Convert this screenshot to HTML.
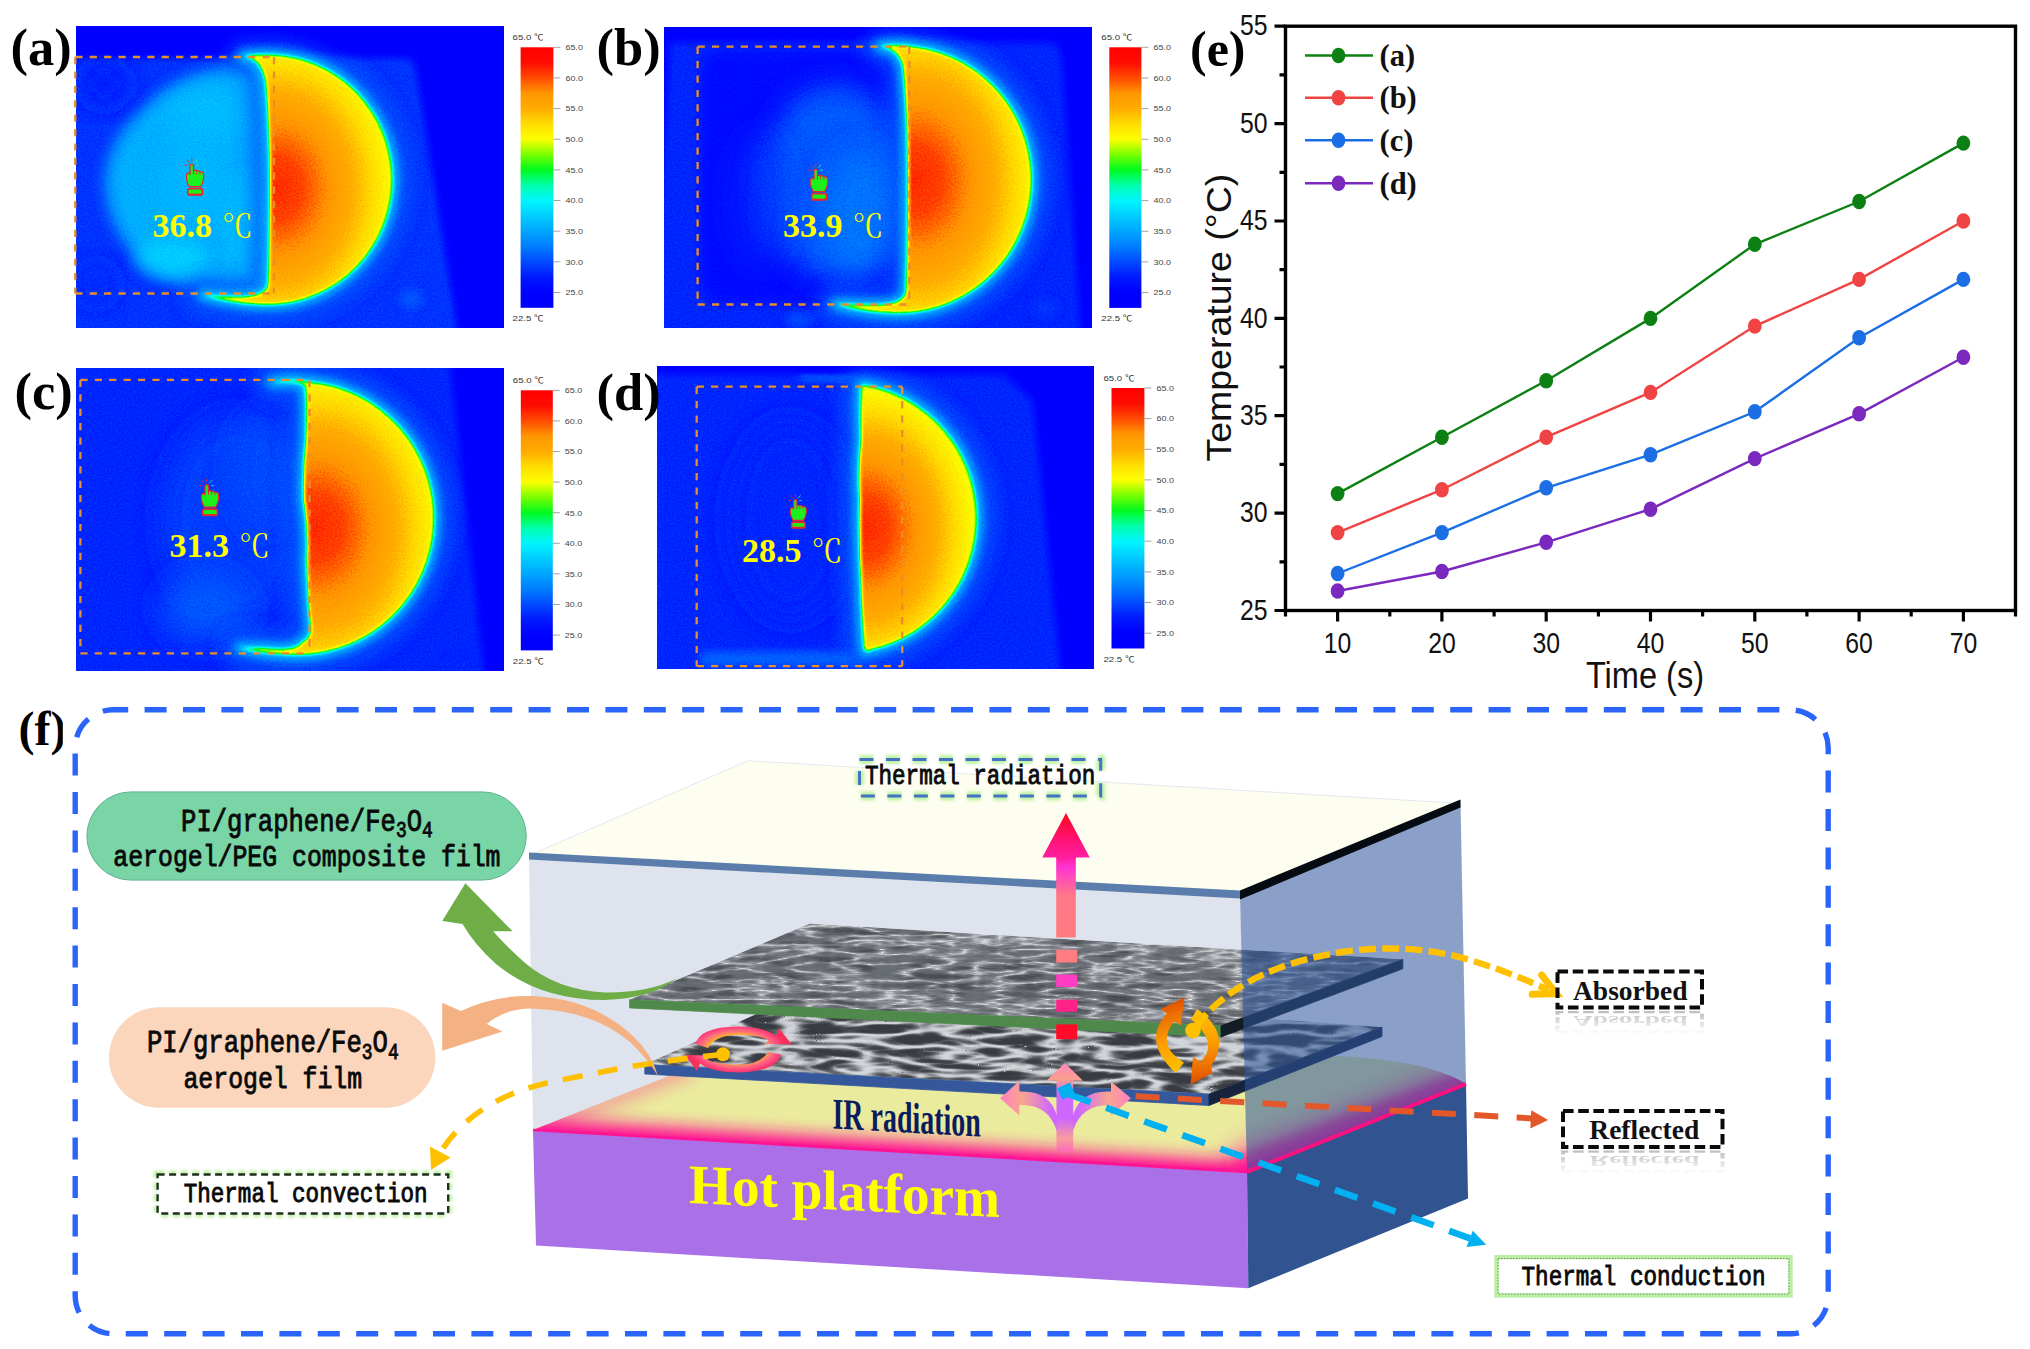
<!DOCTYPE html>
<html><head><meta charset="utf-8"><title>Figure</title>
<style>html,body{margin:0;padding:0;background:#fff;}svg{display:block;}</style>
</head><body>
<svg width="2030" height="1349" viewBox="0 0 2030 1349">
<rect width="2030" height="1349" fill="#fff"/>
<defs>
<filter id="cmap" color-interpolation-filters="sRGB" x="0" y="0" width="100%" height="100%">
<feGaussianBlur stdDeviation="0.7"/>
<feComponentTransfer><feFuncR type="table" tableValues="0.000 0.000 0.000 0.000 0.000 0.000 0.000 0.000 0.000 0.000 0.471 0.988 1.000 1.000 1.000 1.000 1.000 1.000"/><feFuncG type="table" tableValues="0.000 0.000 0.098 0.294 0.490 0.647 0.804 0.961 1.000 0.980 1.000 1.000 0.863 0.675 0.588 0.294 0.047 0.000"/><feFuncB type="table" tableValues="1.000 1.000 1.000 1.000 1.000 1.000 1.000 1.000 0.667 0.118 0.000 0.000 0.000 0.000 0.000 0.000 0.000 0.000"/><feFuncA type="linear" slope="0" intercept="1"/></feComponentTransfer>
</filter>
<linearGradient id="cbar" x1="0" y1="0" x2="0" y2="1"><stop offset="0.0000" stop-color="rgb(255,0,0)"/><stop offset="0.0588" stop-color="rgb(255,12,0)"/><stop offset="0.1176" stop-color="rgb(255,75,0)"/><stop offset="0.1765" stop-color="rgb(255,150,0)"/><stop offset="0.2353" stop-color="rgb(255,172,0)"/><stop offset="0.2941" stop-color="rgb(255,220,0)"/><stop offset="0.3529" stop-color="rgb(252,255,0)"/><stop offset="0.4118" stop-color="rgb(120,255,0)"/><stop offset="0.4706" stop-color="rgb(0,250,30)"/><stop offset="0.5294" stop-color="rgb(0,255,170)"/><stop offset="0.5882" stop-color="rgb(0,245,255)"/><stop offset="0.6471" stop-color="rgb(0,205,255)"/><stop offset="0.7059" stop-color="rgb(0,165,255)"/><stop offset="0.7647" stop-color="rgb(0,125,255)"/><stop offset="0.8235" stop-color="rgb(0,75,255)"/><stop offset="0.8824" stop-color="rgb(0,25,255)"/><stop offset="0.9412" stop-color="rgb(0,0,255)"/><stop offset="1.0000" stop-color="rgb(0,0,255)"/></linearGradient>
<filter id="b1" x="-20%" y="-20%" width="140%" height="140%"><feGaussianBlur stdDeviation="1.6"/></filter>
<filter id="b2" x="-20%" y="-20%" width="140%" height="140%"><feGaussianBlur stdDeviation="2.5"/></filter>
<filter id="b4" x="-30%" y="-30%" width="160%" height="160%"><feGaussianBlur stdDeviation="4"/></filter>
<filter id="b8" x="-40%" y="-40%" width="180%" height="180%"><feGaussianBlur stdDeviation="8"/></filter>
<filter id="b14" x="-50%" y="-50%" width="200%" height="200%"><feGaussianBlur stdDeviation="14"/></filter>
<filter id="soft" x="-5%" y="-5%" width="110%" height="110%"><feGaussianBlur stdDeviation="0.6"/></filter>
</defs><defs><filter id="cmA" filterUnits="userSpaceOnUse" x="76.0" y="26.5" width="427.5" height="301.5" color-interpolation-filters="sRGB"><feGaussianBlur stdDeviation="0.8" result="b"/><feTurbulence type="fractalNoise" baseFrequency="0.55" numOctaves="2" seed="5" result="n"/><feColorMatrix in="n" type="matrix" values="1 0 0 0 0  1 0 0 0 0  1 0 0 0 0  0 0 0 0 1" result="n1"/><feComposite in="b" in2="n1" operator="arithmetic" k1="0" k2="1" k3="0.064" k4="-0.032" result="bn"/><feComponentTransfer in="bn"><feFuncR type="table" tableValues="0.000 0.000 0.000 0.000 0.000 0.000 0.000 0.000 0.000 0.000 0.471 0.988 1.000 1.000 1.000 1.000 1.000 1.000"/><feFuncG type="table" tableValues="0.000 0.000 0.098 0.294 0.490 0.647 0.804 0.961 1.000 0.980 1.000 1.000 0.863 0.675 0.588 0.294 0.047 0.000"/><feFuncB type="table" tableValues="1.000 1.000 1.000 1.000 1.000 1.000 1.000 1.000 0.667 0.118 0.000 0.000 0.000 0.000 0.000 0.000 0.000 0.000"/><feFuncA type="linear" slope="0" intercept="1"/></feComponentTransfer></filter><radialGradient id="hgA" gradientUnits="userSpaceOnUse" cx="276.0" cy="188.0" r="116.0" gradientTransform="translate(0 -47.00) scale(1 1.250)"><stop offset="0.00" stop-color="#e9e9e9"/><stop offset="0.22" stop-color="#e3e3e3"/><stop offset="0.45" stop-color="#d2d2d2"/><stop offset="0.68" stop-color="#c1c1c1"/><stop offset="0.86" stop-color="#b1b1b1"/><stop offset="1.00" stop-color="#a6a6a6"/></radialGradient></defs><g filter="url(#cmA)"><rect x="71.0" y="21.5" width="437.5" height="311.5" fill="#090909"/><path d="M50 56 L408 56 Q416 58 418 70 L462 345 L50 345 Z" fill="#252525" filter="url(#b4)"/><path d="M273 66 Q210 62 165 92 Q108 130 106 182 Q108 235 150 268 Q200 296 273 292 Z" fill="#4f4f4f" filter="url(#b8)"/><ellipse cx="205.0" cy="115.0" rx="40.0" ry="28.0" fill="#565656" filter="url(#b14)" opacity="0.70"/><ellipse cx="172.0" cy="258.0" rx="36.0" ry="20.0" fill="#5d5d5d" filter="url(#b8)" opacity="0.75"/><ellipse cx="245.0" cy="225.0" rx="22.0" ry="50.0" fill="#575757" filter="url(#b8)" opacity="0.60"/><ellipse cx="196.0" cy="182.0" rx="30.0" ry="40.0" fill="#555555" filter="url(#b14)" opacity="0.60"/><ellipse cx="104.0" cy="84.0" rx="22.0" ry="20.0" fill="#1e1e1e" filter="url(#b14)" opacity="0.80"/><ellipse cx="96.0" cy="284.0" rx="16.0" ry="18.0" fill="#212121" filter="url(#b14)" opacity="0.80"/><ellipse cx="411.0" cy="299.0" rx="12.0" ry="10.0" fill="#303030" filter="url(#b4)" opacity="0.90"/><path d="M243 56.16 Q262 58 266 84 Q270 130 270 180 Q270 250 268 285 Q266 296 240 297 Q222 297 203 295 Q230 303 258 304.24 A125.0 125.0 0 0 0 283 55.56 Q262 53 243 56.16 Z" fill="none" stroke="#323232" stroke-width="40" stroke-linejoin="round" filter="url(#b8)" opacity="0.75"/><path d="M243 56.16 Q262 58 266 84 Q270 130 270 180 Q270 250 268 285 Q266 296 240 297 Q222 297 203 295 Q230 303 258 304.24 A125.0 125.0 0 0 0 283 55.56 Q262 53 243 56.16 Z" fill="none" stroke="#5a5a5a" stroke-width="11.0" stroke-linejoin="round" filter="url(#b4)" opacity="0.85"/><path d="M243 56.16 Q262 58 266 84 Q270 130 270 180 Q270 250 268 285 Q266 296 240 297 Q222 297 203 295 Q230 303 258 304.24 A125.0 125.0 0 0 0 283 55.56 Q262 53 243 56.16 Z" fill="url(#hgA)" filter="url(#b1)"/></g><path d="M75.3 57.0 H274.0" stroke="#e88f2c" stroke-width="2.3" stroke-dasharray="7.2 7.2" fill="none"/><path d="M75.3 293.5 H274.0" stroke="#e88f2c" stroke-width="2.3" stroke-dasharray="7.2 7.2" fill="none"/><path d="M75.3 57.0 V293.5" stroke="#e88f2c" stroke-width="2.3" stroke-dasharray="7.2 7.2" fill="none"/><path d="M274.0 57.0 V293.5" stroke="#e88f2c" stroke-width="2.3" stroke-dasharray="7.2 7.2" fill="none"/><g transform="translate(195.0 158.0) scale(1.000)" stroke="#e8262c" stroke-width="1.25" fill="#1cf01c" stroke-linejoin="round"><path d="M-5 8 Q-5 6 -3.2 6 Q-1.5 6 -1.5 8 V13 Q0 11.4 1.6 13 Q3.2 11.9 4.8 13.8 Q6.6 12.9 8.2 15 Q9.1 17 8.6 21 Q8 25 5.6 28.6 H-5.6 Q-8 25 -8.6 21 Q-9.1 17 -8 15.4 Q-6.5 14.4 -5 16 Z"/><path d="M-1.5 13 v3.4 M1.7 13.4 v3 M5 14.2 v2.6" fill="none" stroke-width="0.9"/><rect x="-7.3" y="30.6" width="14.7" height="6.4" rx="2" stroke-width="1.7"/><path d="M-6.4 36.4 h12.9" stroke-width="1.6" fill="none"/><g fill="none" stroke-width="1" stroke-linecap="round"><path d="M-8.2 2 l2.6 2.6"/><path d="M-3.2 0.4 v2.8"/><path d="M2 2 l-2.4 2.4" stroke="#34e0a0"/><path d="M-10.4 7.2 h2.6"/><path d="M1.4 7.2 h2" stroke="#34e0a0"/></g></g><text x="152.5" y="237.0" font-family="'Liberation Serif','Noto Serif CJK SC',serif" font-weight="bold" font-size="34" fill="#ffff00">36.8<tspan font-weight="normal" font-family="'Liberation Serif','Noto Serif CJK SC',serif" font-size="31" dx="10">℃</tspan></text><rect x="520.6" y="47.3" width="32.8" height="260.5" fill="url(#cbar)"/><g font-family="'Liberation Sans','Noto Sans CJK SC',sans-serif" font-size="7.6" fill="#333"><text x="512.6" y="39.8" textLength="31" lengthAdjust="spacingAndGlyphs">65.0 ℃</text><text x="512.6" y="321.3" textLength="31" lengthAdjust="spacingAndGlyphs">22.5 ℃</text><path d="M553.4 292.5 h7" stroke="#999" stroke-width="0.9"/><text x="565.4" y="295.3" fill="#444" textLength="17.5" lengthAdjust="spacingAndGlyphs">25.0</text><path d="M553.4 261.8 h7" stroke="#999" stroke-width="0.9"/><text x="565.4" y="264.6" fill="#444" textLength="17.5" lengthAdjust="spacingAndGlyphs">30.0</text><path d="M553.4 231.2 h7" stroke="#999" stroke-width="0.9"/><text x="565.4" y="234.0" fill="#444" textLength="17.5" lengthAdjust="spacingAndGlyphs">35.0</text><path d="M553.4 200.5 h7" stroke="#999" stroke-width="0.9"/><text x="565.4" y="203.3" fill="#444" textLength="17.5" lengthAdjust="spacingAndGlyphs">40.0</text><path d="M553.4 169.9 h7" stroke="#999" stroke-width="0.9"/><text x="565.4" y="172.7" fill="#444" textLength="17.5" lengthAdjust="spacingAndGlyphs">45.0</text><path d="M553.4 139.2 h7" stroke="#999" stroke-width="0.9"/><text x="565.4" y="142.0" fill="#444" textLength="17.5" lengthAdjust="spacingAndGlyphs">50.0</text><path d="M553.4 108.6 h7" stroke="#999" stroke-width="0.9"/><text x="565.4" y="111.4" fill="#444" textLength="17.5" lengthAdjust="spacingAndGlyphs">55.0</text><path d="M553.4 77.9 h7" stroke="#999" stroke-width="0.9"/><text x="565.4" y="80.7" fill="#444" textLength="17.5" lengthAdjust="spacingAndGlyphs">60.0</text><path d="M553.4 47.3 h7" stroke="#999" stroke-width="0.9"/><text x="565.4" y="50.1" fill="#444" textLength="17.5" lengthAdjust="spacingAndGlyphs">65.0</text></g><text x="10.5" y="65.0" font-family="'Liberation Serif','Noto Serif CJK SC',serif" font-weight="bold" font-size="52.5" fill="#000">(a)</text><defs><filter id="cmB" filterUnits="userSpaceOnUse" x="664.0" y="27.0" width="428.0" height="300.7" color-interpolation-filters="sRGB"><feGaussianBlur stdDeviation="0.8" result="b"/><feTurbulence type="fractalNoise" baseFrequency="0.55" numOctaves="2" seed="5" result="n"/><feColorMatrix in="n" type="matrix" values="1 0 0 0 0  1 0 0 0 0  1 0 0 0 0  0 0 0 0 1" result="n1"/><feComposite in="b" in2="n1" operator="arithmetic" k1="0" k2="1" k3="0.064" k4="-0.032" result="bn"/><feComponentTransfer in="bn"><feFuncR type="table" tableValues="0.000 0.000 0.000 0.000 0.000 0.000 0.000 0.000 0.000 0.000 0.471 0.988 1.000 1.000 1.000 1.000 1.000 1.000"/><feFuncG type="table" tableValues="0.000 0.000 0.098 0.294 0.490 0.647 0.804 0.961 1.000 0.980 1.000 1.000 0.863 0.675 0.588 0.294 0.047 0.000"/><feFuncB type="table" tableValues="1.000 1.000 1.000 1.000 1.000 1.000 1.000 1.000 0.667 0.118 0.000 0.000 0.000 0.000 0.000 0.000 0.000 0.000"/><feFuncA type="linear" slope="0" intercept="1"/></feComponentTransfer></filter><radialGradient id="hgB" gradientUnits="userSpaceOnUse" cx="915.0" cy="180.0" r="122.0" gradientTransform="translate(0 -54.00) scale(1 1.300)"><stop offset="0.00" stop-color="#e9e9e9"/><stop offset="0.22" stop-color="#e3e3e3"/><stop offset="0.45" stop-color="#d2d2d2"/><stop offset="0.68" stop-color="#c1c1c1"/><stop offset="0.86" stop-color="#b1b1b1"/><stop offset="1.00" stop-color="#a6a6a6"/></radialGradient></defs><g filter="url(#cmB)"><rect x="659.0" y="22.0" width="438.0" height="310.7" fill="#090909"/><path d="M668 40 L1050 40 Q1062 42 1064 60 L1084 345 L650 345 Z" fill="#232323" filter="url(#b4)"/><rect x="702" y="52" width="203" height="250" rx="20" fill="#191919" filter="url(#b4)"/><ellipse cx="835.0" cy="182.0" rx="75.0" ry="100.0" fill="#343434" filter="url(#b14)" opacity="0.90"/><ellipse cx="862.0" cy="215.0" rx="40.0" ry="65.0" fill="#3d3d3d" filter="url(#b14)" opacity="0.70"/><ellipse cx="760.0" cy="200.0" rx="30.0" ry="70.0" fill="#272727" filter="url(#b14)" opacity="0.60"/><ellipse cx="800.0" cy="320.0" rx="14.0" ry="8.0" fill="#2d2d2d" filter="url(#b4)" opacity="0.90"/><ellipse cx="1045.0" cy="308.0" rx="14.0" ry="10.0" fill="#262626" filter="url(#b4)" opacity="0.90"/><path d="M880 46.5 Q898 48 903 66 Q908 110 908 180 Q908 250 906 292 Q903 304 880 305 Q858 305 836 304 Q862 312 890 312.74 A133.6 133.6 0 0 0 915 46.84 Q897 43.5 880 46.5 Z" fill="none" stroke="#323232" stroke-width="40" stroke-linejoin="round" filter="url(#b8)" opacity="0.75"/><path d="M880 46.5 Q898 48 903 66 Q908 110 908 180 Q908 250 906 292 Q903 304 880 305 Q858 305 836 304 Q862 312 890 312.74 A133.6 133.6 0 0 0 915 46.84 Q897 43.5 880 46.5 Z" fill="none" stroke="#5a5a5a" stroke-width="11.0" stroke-linejoin="round" filter="url(#b4)" opacity="0.85"/><path d="M880 46.5 Q898 48 903 66 Q908 110 908 180 Q908 250 906 292 Q903 304 880 305 Q858 305 836 304 Q862 312 890 312.74 A133.6 133.6 0 0 0 915 46.84 Q897 43.5 880 46.5 Z" fill="url(#hgB)" filter="url(#b1)"/></g><path d="M697.6 46.7 H909.3" stroke="#e88f2c" stroke-width="2.3" stroke-dasharray="7.2 7.2" fill="none"/><path d="M697.6 304.5 H909.3" stroke="#e88f2c" stroke-width="2.3" stroke-dasharray="7.2 7.2" fill="none"/><path d="M697.6 46.7 V304.5" stroke="#e88f2c" stroke-width="2.3" stroke-dasharray="7.2 7.2" fill="none"/><path d="M909.3 46.7 V304.5" stroke="#e88f2c" stroke-width="2.3" stroke-dasharray="7.2 7.2" fill="none"/><g transform="translate(819.0 163.0) scale(1.000)" stroke="#e8262c" stroke-width="1.25" fill="#1cf01c" stroke-linejoin="round"><path d="M-5 8 Q-5 6 -3.2 6 Q-1.5 6 -1.5 8 V13 Q0 11.4 1.6 13 Q3.2 11.9 4.8 13.8 Q6.6 12.9 8.2 15 Q9.1 17 8.6 21 Q8 25 5.6 28.6 H-5.6 Q-8 25 -8.6 21 Q-9.1 17 -8 15.4 Q-6.5 14.4 -5 16 Z"/><path d="M-1.5 13 v3.4 M1.7 13.4 v3 M5 14.2 v2.6" fill="none" stroke-width="0.9"/><rect x="-7.3" y="30.6" width="14.7" height="6.4" rx="2" stroke-width="1.7"/><path d="M-6.4 36.4 h12.9" stroke-width="1.6" fill="none"/><g fill="none" stroke-width="1" stroke-linecap="round"><path d="M-8.2 2 l2.6 2.6"/><path d="M-3.2 0.4 v2.8"/><path d="M2 2 l-2.4 2.4" stroke="#34e0a0"/><path d="M-10.4 7.2 h2.6"/><path d="M1.4 7.2 h2" stroke="#34e0a0"/></g></g><text x="783.0" y="236.5" font-family="'Liberation Serif','Noto Serif CJK SC',serif" font-weight="bold" font-size="34" fill="#ffff00">33.9<tspan font-weight="normal" font-family="'Liberation Serif','Noto Serif CJK SC',serif" font-size="31" dx="10">℃</tspan></text><rect x="1109.3" y="47.3" width="32.1" height="260.6" fill="url(#cbar)"/><g font-family="'Liberation Sans','Noto Sans CJK SC',sans-serif" font-size="7.6" fill="#333"><text x="1101.3" y="39.8" textLength="31" lengthAdjust="spacingAndGlyphs">65.0 ℃</text><text x="1101.3" y="321.4" textLength="31" lengthAdjust="spacingAndGlyphs">22.5 ℃</text><path d="M1141.4 292.6 h7" stroke="#999" stroke-width="0.9"/><text x="1153.4" y="295.4" fill="#444" textLength="17.5" lengthAdjust="spacingAndGlyphs">25.0</text><path d="M1141.4 261.9 h7" stroke="#999" stroke-width="0.9"/><text x="1153.4" y="264.7" fill="#444" textLength="17.5" lengthAdjust="spacingAndGlyphs">30.0</text><path d="M1141.4 231.3 h7" stroke="#999" stroke-width="0.9"/><text x="1153.4" y="234.1" fill="#444" textLength="17.5" lengthAdjust="spacingAndGlyphs">35.0</text><path d="M1141.4 200.6 h7" stroke="#999" stroke-width="0.9"/><text x="1153.4" y="203.4" fill="#444" textLength="17.5" lengthAdjust="spacingAndGlyphs">40.0</text><path d="M1141.4 169.9 h7" stroke="#999" stroke-width="0.9"/><text x="1153.4" y="172.7" fill="#444" textLength="17.5" lengthAdjust="spacingAndGlyphs">45.0</text><path d="M1141.4 139.3 h7" stroke="#999" stroke-width="0.9"/><text x="1153.4" y="142.1" fill="#444" textLength="17.5" lengthAdjust="spacingAndGlyphs">50.0</text><path d="M1141.4 108.6 h7" stroke="#999" stroke-width="0.9"/><text x="1153.4" y="111.4" fill="#444" textLength="17.5" lengthAdjust="spacingAndGlyphs">55.0</text><path d="M1141.4 78.0 h7" stroke="#999" stroke-width="0.9"/><text x="1153.4" y="80.8" fill="#444" textLength="17.5" lengthAdjust="spacingAndGlyphs">60.0</text><path d="M1141.4 47.3 h7" stroke="#999" stroke-width="0.9"/><text x="1153.4" y="50.1" fill="#444" textLength="17.5" lengthAdjust="spacingAndGlyphs">65.0</text></g><text x="596.5" y="65.0" font-family="'Liberation Serif','Noto Serif CJK SC',serif" font-weight="bold" font-size="52.5" fill="#000">(b)</text><defs><filter id="cmC" filterUnits="userSpaceOnUse" x="76.3" y="368.7" width="427.1" height="301.5" color-interpolation-filters="sRGB"><feGaussianBlur stdDeviation="0.8" result="b"/><feTurbulence type="fractalNoise" baseFrequency="0.55" numOctaves="2" seed="5" result="n"/><feColorMatrix in="n" type="matrix" values="1 0 0 0 0  1 0 0 0 0  1 0 0 0 0  0 0 0 0 1" result="n1"/><feComposite in="b" in2="n1" operator="arithmetic" k1="0" k2="1" k3="0.064" k4="-0.032" result="bn"/><feComponentTransfer in="bn"><feFuncR type="table" tableValues="0.000 0.000 0.000 0.000 0.000 0.000 0.000 0.000 0.000 0.000 0.471 0.988 1.000 1.000 1.000 1.000 1.000 1.000"/><feFuncG type="table" tableValues="0.000 0.000 0.098 0.294 0.490 0.647 0.804 0.961 1.000 0.980 1.000 1.000 0.863 0.675 0.588 0.294 0.047 0.000"/><feFuncB type="table" tableValues="1.000 1.000 1.000 1.000 1.000 1.000 1.000 1.000 0.667 0.118 0.000 0.000 0.000 0.000 0.000 0.000 0.000 0.000"/><feFuncA type="linear" slope="0" intercept="1"/></feComponentTransfer></filter><radialGradient id="hgC" gradientUnits="userSpaceOnUse" cx="316.0" cy="528.0" r="122.0" gradientTransform="translate(0 -132.00) scale(1 1.250)"><stop offset="0.00" stop-color="#e9e9e9"/><stop offset="0.22" stop-color="#e3e3e3"/><stop offset="0.45" stop-color="#d2d2d2"/><stop offset="0.68" stop-color="#c1c1c1"/><stop offset="0.86" stop-color="#b1b1b1"/><stop offset="1.00" stop-color="#a6a6a6"/></radialGradient></defs><g filter="url(#cmC)"><rect x="71.3" y="363.7" width="437.1" height="311.5" fill="#090909"/><path d="M50 360 L452 360 L488 690 L50 690 Z" fill="#222222" filter="url(#b4)"/><ellipse cx="235.0" cy="520.0" rx="72.0" ry="105.0" fill="#292929" filter="url(#b14)" opacity="0.90"/><ellipse cx="205.0" cy="608.0" rx="45.0" ry="34.0" fill="#333333" filter="url(#b14)" opacity="0.90"/><ellipse cx="262.0" cy="470.0" rx="30.0" ry="60.0" fill="#2e2e2e" filter="url(#b14)" opacity="0.70"/><ellipse cx="455.0" cy="665.0" rx="10.0" ry="10.0" fill="#212121" filter="url(#b4)" opacity="0.90"/><path d="M272 382 Q300 381 305 386 Q307 400 306 440 Q303 470 304 500 Q309 530 307 560 Q308 600 311 630 Q309 640 302 642 Q298 652 262 648 L240 648 Q270 655 300 654.68 A136.7 136.7 0 0 0 308 381.68 Q290 378 272 382 Z" fill="none" stroke="#323232" stroke-width="40" stroke-linejoin="round" filter="url(#b8)" opacity="0.75"/><path d="M272 382 Q300 381 305 386 Q307 400 306 440 Q303 470 304 500 Q309 530 307 560 Q308 600 311 630 Q309 640 302 642 Q298 652 262 648 L240 648 Q270 655 300 654.68 A136.7 136.7 0 0 0 308 381.68 Q290 378 272 382 Z" fill="none" stroke="#5a5a5a" stroke-width="11.0" stroke-linejoin="round" filter="url(#b4)" opacity="0.85"/><path d="M272 382 Q300 381 305 386 Q307 400 306 440 Q303 470 304 500 Q309 530 307 560 Q308 600 311 630 Q309 640 302 642 Q298 652 262 648 L240 648 Q270 655 300 654.68 A136.7 136.7 0 0 0 308 381.68 Q290 378 272 382 Z" fill="url(#hgC)" filter="url(#b1)"/></g><path d="M80.4 379.9 H309.5" stroke="#e88f2c" stroke-width="2.3" stroke-dasharray="7.2 7.2" fill="none"/><path d="M80.4 653.3 H309.5" stroke="#e88f2c" stroke-width="2.3" stroke-dasharray="7.2 7.2" fill="none"/><path d="M80.4 379.9 V653.3" stroke="#e88f2c" stroke-width="2.3" stroke-dasharray="7.2 7.2" fill="none"/><path d="M309.5 379.9 V653.3" stroke="#e88f2c" stroke-width="2.3" stroke-dasharray="7.2 7.2" fill="none"/><g transform="translate(210.0 478.5) scale(1.000)" stroke="#e8262c" stroke-width="1.25" fill="#1cf01c" stroke-linejoin="round"><path d="M-5 8 Q-5 6 -3.2 6 Q-1.5 6 -1.5 8 V13 Q0 11.4 1.6 13 Q3.2 11.9 4.8 13.8 Q6.6 12.9 8.2 15 Q9.1 17 8.6 21 Q8 25 5.6 28.6 H-5.6 Q-8 25 -8.6 21 Q-9.1 17 -8 15.4 Q-6.5 14.4 -5 16 Z"/><path d="M-1.5 13 v3.4 M1.7 13.4 v3 M5 14.2 v2.6" fill="none" stroke-width="0.9"/><rect x="-7.3" y="30.6" width="14.7" height="6.4" rx="2" stroke-width="1.7"/><path d="M-6.4 36.4 h12.9" stroke-width="1.6" fill="none"/><g fill="none" stroke-width="1" stroke-linecap="round"><path d="M-8.2 2 l2.6 2.6"/><path d="M-3.2 0.4 v2.8"/><path d="M2 2 l-2.4 2.4" stroke="#34e0a0"/><path d="M-10.4 7.2 h2.6"/><path d="M1.4 7.2 h2" stroke="#34e0a0"/></g></g><text x="169.5" y="557.0" font-family="'Liberation Serif','Noto Serif CJK SC',serif" font-weight="bold" font-size="34" fill="#ffff00">31.3<tspan font-weight="normal" font-family="'Liberation Serif','Noto Serif CJK SC',serif" font-size="31" dx="10">℃</tspan></text><rect x="520.8" y="390.3" width="32.0" height="260.1" fill="url(#cbar)"/><g font-family="'Liberation Sans','Noto Sans CJK SC',sans-serif" font-size="7.6" fill="#333"><text x="512.8" y="382.8" textLength="31" lengthAdjust="spacingAndGlyphs">65.0 ℃</text><text x="512.8" y="663.9" textLength="31" lengthAdjust="spacingAndGlyphs">22.5 ℃</text><path d="M552.8 635.1 h7" stroke="#999" stroke-width="0.9"/><text x="564.8" y="637.9" fill="#444" textLength="17.5" lengthAdjust="spacingAndGlyphs">25.0</text><path d="M552.8 604.5 h7" stroke="#999" stroke-width="0.9"/><text x="564.8" y="607.3" fill="#444" textLength="17.5" lengthAdjust="spacingAndGlyphs">30.0</text><path d="M552.8 573.9 h7" stroke="#999" stroke-width="0.9"/><text x="564.8" y="576.7" fill="#444" textLength="17.5" lengthAdjust="spacingAndGlyphs">35.0</text><path d="M552.8 543.3 h7" stroke="#999" stroke-width="0.9"/><text x="564.8" y="546.1" fill="#444" textLength="17.5" lengthAdjust="spacingAndGlyphs">40.0</text><path d="M552.8 512.7 h7" stroke="#999" stroke-width="0.9"/><text x="564.8" y="515.5" fill="#444" textLength="17.5" lengthAdjust="spacingAndGlyphs">45.0</text><path d="M552.8 482.1 h7" stroke="#999" stroke-width="0.9"/><text x="564.8" y="484.9" fill="#444" textLength="17.5" lengthAdjust="spacingAndGlyphs">50.0</text><path d="M552.8 451.5 h7" stroke="#999" stroke-width="0.9"/><text x="564.8" y="454.3" fill="#444" textLength="17.5" lengthAdjust="spacingAndGlyphs">55.0</text><path d="M552.8 420.9 h7" stroke="#999" stroke-width="0.9"/><text x="564.8" y="423.7" fill="#444" textLength="17.5" lengthAdjust="spacingAndGlyphs">60.0</text><path d="M552.8 390.3 h7" stroke="#999" stroke-width="0.9"/><text x="564.8" y="393.1" fill="#444" textLength="17.5" lengthAdjust="spacingAndGlyphs">65.0</text></g><text x="14.5" y="409.0" font-family="'Liberation Serif','Noto Serif CJK SC',serif" font-weight="bold" font-size="52.5" fill="#000">(c)</text><defs><filter id="cmD" filterUnits="userSpaceOnUse" x="657.0" y="366.9" width="437.0" height="301.4" color-interpolation-filters="sRGB"><feGaussianBlur stdDeviation="0.8" result="b"/><feTurbulence type="fractalNoise" baseFrequency="0.55" numOctaves="2" seed="5" result="n"/><feColorMatrix in="n" type="matrix" values="1 0 0 0 0  1 0 0 0 0  1 0 0 0 0  0 0 0 0 1" result="n1"/><feComposite in="b" in2="n1" operator="arithmetic" k1="0" k2="1" k3="0.064" k4="-0.032" result="bn"/><feComponentTransfer in="bn"><feFuncR type="table" tableValues="0.000 0.000 0.000 0.000 0.000 0.000 0.000 0.000 0.000 0.000 0.471 0.988 1.000 1.000 1.000 1.000 1.000 1.000"/><feFuncG type="table" tableValues="0.000 0.000 0.098 0.294 0.490 0.647 0.804 0.961 1.000 0.980 1.000 1.000 0.863 0.675 0.588 0.294 0.047 0.000"/><feFuncB type="table" tableValues="1.000 1.000 1.000 1.000 1.000 1.000 1.000 1.000 0.667 0.118 0.000 0.000 0.000 0.000 0.000 0.000 0.000 0.000"/><feFuncA type="linear" slope="0" intercept="1"/></feComponentTransfer></filter><radialGradient id="hgD" gradientUnits="userSpaceOnUse" cx="866.0" cy="528.0" r="108.0" gradientTransform="translate(0 -158.40) scale(1 1.300)"><stop offset="0.00" stop-color="#e9e9e9"/><stop offset="0.22" stop-color="#e3e3e3"/><stop offset="0.45" stop-color="#d2d2d2"/><stop offset="0.68" stop-color="#c1c1c1"/><stop offset="0.86" stop-color="#b1b1b1"/><stop offset="1.00" stop-color="#a6a6a6"/></radialGradient></defs><g filter="url(#cmD)"><rect x="652.0" y="361.9" width="447.0" height="311.4" fill="#090909"/><path d="M640 372 L1005 372 L1035 400 L1065 690 L640 690 Z" fill="#212121" filter="url(#b4)"/><ellipse cx="790.0" cy="520.0" rx="60.0" ry="100.0" fill="#212121" filter="url(#b14)" opacity="0.90"/><rect x="700" y="652" width="165" height="14" rx="6" fill="#363636" filter="url(#b4)"/><path d="M800 376 Q840 376 866 382" stroke="#3f3f3f" stroke-width="7" fill="none" filter="url(#b4)" opacity="0.8"/><path d="M861 386.65 Q860 400 861 440 Q858 470 860 500 Q859 540 861 580 Q862 620 864 648 Q866 654 871 649.85 A135.0 135.0 0 0 0 866 385.15 Q863 384.15 861 386.65 Z" fill="none" stroke="#323232" stroke-width="40" stroke-linejoin="round" filter="url(#b8)" opacity="0.75"/><path d="M861 386.65 Q860 400 861 440 Q858 470 860 500 Q859 540 861 580 Q862 620 864 648 Q866 654 871 649.85 A135.0 135.0 0 0 0 866 385.15 Q863 384.15 861 386.65 Z" fill="none" stroke="#5a5a5a" stroke-width="11.0" stroke-linejoin="round" filter="url(#b4)" opacity="0.85"/><path d="M861 386.65 Q860 400 861 440 Q858 470 860 500 Q859 540 861 580 Q862 620 864 648 Q866 654 871 649.85 A135.0 135.0 0 0 0 866 385.15 Q863 384.15 861 386.65 Z" fill="url(#hgD)" filter="url(#b1)"/></g><path d="M696.7 386.7 H902.2" stroke="#e88f2c" stroke-width="2.3" stroke-dasharray="7.2 7.2" fill="none"/><path d="M696.7 666.2 H902.2" stroke="#e88f2c" stroke-width="2.3" stroke-dasharray="7.2 7.2" fill="none"/><path d="M696.7 386.7 V666.2" stroke="#e88f2c" stroke-width="2.3" stroke-dasharray="7.2 7.2" fill="none"/><path d="M902.2 386.7 V666.2" stroke="#e88f2c" stroke-width="2.3" stroke-dasharray="7.2 7.2" fill="none"/><g transform="translate(798.3 494.0) scale(0.920)" stroke="#e8262c" stroke-width="1.25" fill="#1cf01c" stroke-linejoin="round"><path d="M-5 8 Q-5 6 -3.2 6 Q-1.5 6 -1.5 8 V13 Q0 11.4 1.6 13 Q3.2 11.9 4.8 13.8 Q6.6 12.9 8.2 15 Q9.1 17 8.6 21 Q8 25 5.6 28.6 H-5.6 Q-8 25 -8.6 21 Q-9.1 17 -8 15.4 Q-6.5 14.4 -5 16 Z"/><path d="M-1.5 13 v3.4 M1.7 13.4 v3 M5 14.2 v2.6" fill="none" stroke-width="0.9"/><rect x="-7.3" y="30.6" width="14.7" height="6.4" rx="2" stroke-width="1.7"/><path d="M-6.4 36.4 h12.9" stroke-width="1.6" fill="none"/><g fill="none" stroke-width="1" stroke-linecap="round"><path d="M-8.2 2 l2.6 2.6"/><path d="M-3.2 0.4 v2.8"/><path d="M2 2 l-2.4 2.4" stroke="#34e0a0"/><path d="M-10.4 7.2 h2.6"/><path d="M1.4 7.2 h2" stroke="#34e0a0"/></g></g><text x="742.0" y="562.0" font-family="'Liberation Serif','Noto Serif CJK SC',serif" font-weight="bold" font-size="34" fill="#ffff00">28.5<tspan font-weight="normal" font-family="'Liberation Serif','Noto Serif CJK SC',serif" font-size="31" dx="10">℃</tspan></text><rect x="1111.5" y="388.0" width="32.9" height="260.5" fill="url(#cbar)"/><g font-family="'Liberation Sans','Noto Sans CJK SC',sans-serif" font-size="7.6" fill="#333"><text x="1103.5" y="380.5" textLength="31" lengthAdjust="spacingAndGlyphs">65.0 ℃</text><text x="1103.5" y="662.0" textLength="31" lengthAdjust="spacingAndGlyphs">22.5 ℃</text><path d="M1144.4 633.2 h7" stroke="#999" stroke-width="0.9"/><text x="1156.4" y="636.0" fill="#444" textLength="17.5" lengthAdjust="spacingAndGlyphs">25.0</text><path d="M1144.4 602.5 h7" stroke="#999" stroke-width="0.9"/><text x="1156.4" y="605.3" fill="#444" textLength="17.5" lengthAdjust="spacingAndGlyphs">30.0</text><path d="M1144.4 571.9 h7" stroke="#999" stroke-width="0.9"/><text x="1156.4" y="574.7" fill="#444" textLength="17.5" lengthAdjust="spacingAndGlyphs">35.0</text><path d="M1144.4 541.2 h7" stroke="#999" stroke-width="0.9"/><text x="1156.4" y="544.0" fill="#444" textLength="17.5" lengthAdjust="spacingAndGlyphs">40.0</text><path d="M1144.4 510.6 h7" stroke="#999" stroke-width="0.9"/><text x="1156.4" y="513.4" fill="#444" textLength="17.5" lengthAdjust="spacingAndGlyphs">45.0</text><path d="M1144.4 479.9 h7" stroke="#999" stroke-width="0.9"/><text x="1156.4" y="482.7" fill="#444" textLength="17.5" lengthAdjust="spacingAndGlyphs">50.0</text><path d="M1144.4 449.3 h7" stroke="#999" stroke-width="0.9"/><text x="1156.4" y="452.1" fill="#444" textLength="17.5" lengthAdjust="spacingAndGlyphs">55.0</text><path d="M1144.4 418.6 h7" stroke="#999" stroke-width="0.9"/><text x="1156.4" y="421.4" fill="#444" textLength="17.5" lengthAdjust="spacingAndGlyphs">60.0</text><path d="M1144.4 388.0 h7" stroke="#999" stroke-width="0.9"/><text x="1156.4" y="390.8" fill="#444" textLength="17.5" lengthAdjust="spacingAndGlyphs">65.0</text></g><text x="596.5" y="410.0" font-family="'Liberation Serif','Noto Serif CJK SC',serif" font-weight="bold" font-size="52.5" fill="#000">(d)</text><g><rect x="1285.5" y="26.2" width="730.0" height="584.3" fill="none" stroke="#000" stroke-width="3.4"/><path d="M1285.5 610.5 h-11 M1285.5 513.1 h-11 M1285.5 415.7 h-11 M1285.5 318.4 h-11 M1285.5 221.0 h-11 M1285.5 123.6 h-11 M1285.5 26.2 h-11 M1285.5 561.8 h-6 M1285.5 464.4 h-6 M1285.5 367.0 h-6 M1285.5 269.7 h-6 M1285.5 172.3 h-6 M1285.5 74.9 h-6 M1337.6 610.5 v11 M1441.9 610.5 v11 M1546.2 610.5 v11 M1650.5 610.5 v11 M1754.8 610.5 v11 M1859.1 610.5 v11 M1963.4 610.5 v11 M1285.5 610.5 v6 M1389.8 610.5 v6 M1494.1 610.5 v6 M1598.4 610.5 v6 M1702.6 610.5 v6 M1806.9 610.5 v6 M1911.2 610.5 v6 M2015.5 610.5 v6 " stroke="#000" stroke-width="3.2" fill="none"/><g font-family="'Liberation Sans',sans-serif" font-size="29.5" fill="#111"><text transform="translate(1267.5 619.7) scale(0.84 1)" text-anchor="end">25</text><text transform="translate(1267.5 522.3) scale(0.84 1)" text-anchor="end">30</text><text transform="translate(1267.5 424.9) scale(0.84 1)" text-anchor="end">35</text><text transform="translate(1267.5 327.6) scale(0.84 1)" text-anchor="end">40</text><text transform="translate(1267.5 230.2) scale(0.84 1)" text-anchor="end">45</text><text transform="translate(1267.5 132.8) scale(0.84 1)" text-anchor="end">50</text><text transform="translate(1267.5 35.4) scale(0.84 1)" text-anchor="end">55</text><text transform="translate(1337.6 652.5) scale(0.84 1)" text-anchor="middle">10</text><text transform="translate(1441.9 652.5) scale(0.84 1)" text-anchor="middle">20</text><text transform="translate(1546.2 652.5) scale(0.84 1)" text-anchor="middle">30</text><text transform="translate(1650.5 652.5) scale(0.84 1)" text-anchor="middle">40</text><text transform="translate(1754.8 652.5) scale(0.84 1)" text-anchor="middle">50</text><text transform="translate(1859.1 652.5) scale(0.84 1)" text-anchor="middle">60</text><text transform="translate(1963.4 652.5) scale(0.84 1)" text-anchor="middle">70</text></g><text transform="translate(1645.0 688.0) scale(0.9 1)" text-anchor="middle" font-family="'Liberation Sans',sans-serif" font-size="36.2" fill="#111">Time (s)</text><text transform="translate(1231.0 317.6) rotate(-90) scale(1.087 1)" text-anchor="middle" font-family="'Liberation Sans',sans-serif" font-size="34.5" fill="#111">Temperature (°C)</text><polyline points="1337.6,493.6 1441.9,437.2 1546.2,380.7 1650.5,318.4 1754.8,244.3 1859.1,201.5 1963.4,143.1" fill="none" stroke="#0c8012" stroke-width="2.4"/><ellipse cx="1337.6" cy="493.6" rx="6.9" ry="7.7" fill="#0c8012"/><ellipse cx="1441.9" cy="437.2" rx="6.9" ry="7.7" fill="#0c8012"/><ellipse cx="1546.2" cy="380.7" rx="6.9" ry="7.7" fill="#0c8012"/><ellipse cx="1650.5" cy="318.4" rx="6.9" ry="7.7" fill="#0c8012"/><ellipse cx="1754.8" cy="244.3" rx="6.9" ry="7.7" fill="#0c8012"/><ellipse cx="1859.1" cy="201.5" rx="6.9" ry="7.7" fill="#0c8012"/><ellipse cx="1963.4" cy="143.1" rx="6.9" ry="7.7" fill="#0c8012"/><polyline points="1337.6,532.6 1441.9,489.7 1546.2,437.2 1650.5,392.4 1754.8,326.1 1859.1,279.4 1963.4,221.0" fill="none" stroke="#f04444" stroke-width="2.4"/><ellipse cx="1337.6" cy="532.6" rx="6.9" ry="7.7" fill="#f04444"/><ellipse cx="1441.9" cy="489.7" rx="6.9" ry="7.7" fill="#f04444"/><ellipse cx="1546.2" cy="437.2" rx="6.9" ry="7.7" fill="#f04444"/><ellipse cx="1650.5" cy="392.4" rx="6.9" ry="7.7" fill="#f04444"/><ellipse cx="1754.8" cy="326.1" rx="6.9" ry="7.7" fill="#f04444"/><ellipse cx="1859.1" cy="279.4" rx="6.9" ry="7.7" fill="#f04444"/><ellipse cx="1963.4" cy="221.0" rx="6.9" ry="7.7" fill="#f04444"/><polyline points="1337.6,573.5 1441.9,532.6 1546.2,487.8 1650.5,454.7 1754.8,411.8 1859.1,337.8 1963.4,279.4" fill="none" stroke="#1b6ee4" stroke-width="2.4"/><ellipse cx="1337.6" cy="573.5" rx="6.9" ry="7.7" fill="#1b6ee4"/><ellipse cx="1441.9" cy="532.6" rx="6.9" ry="7.7" fill="#1b6ee4"/><ellipse cx="1546.2" cy="487.8" rx="6.9" ry="7.7" fill="#1b6ee4"/><ellipse cx="1650.5" cy="454.7" rx="6.9" ry="7.7" fill="#1b6ee4"/><ellipse cx="1754.8" cy="411.8" rx="6.9" ry="7.7" fill="#1b6ee4"/><ellipse cx="1859.1" cy="337.8" rx="6.9" ry="7.7" fill="#1b6ee4"/><ellipse cx="1963.4" cy="279.4" rx="6.9" ry="7.7" fill="#1b6ee4"/><polyline points="1337.6,591.0 1441.9,571.5 1546.2,542.3 1650.5,509.2 1754.8,458.6 1859.1,413.8 1963.4,357.3" fill="none" stroke="#7a28be" stroke-width="2.4"/><ellipse cx="1337.6" cy="591.0" rx="6.9" ry="7.7" fill="#7a28be"/><ellipse cx="1441.9" cy="571.5" rx="6.9" ry="7.7" fill="#7a28be"/><ellipse cx="1546.2" cy="542.3" rx="6.9" ry="7.7" fill="#7a28be"/><ellipse cx="1650.5" cy="509.2" rx="6.9" ry="7.7" fill="#7a28be"/><ellipse cx="1754.8" cy="458.6" rx="6.9" ry="7.7" fill="#7a28be"/><ellipse cx="1859.1" cy="413.8" rx="6.9" ry="7.7" fill="#7a28be"/><ellipse cx="1963.4" cy="357.3" rx="6.9" ry="7.7" fill="#7a28be"/><path d="M1305 55.5 H1373" stroke="#0c8012" stroke-width="2.4"/><ellipse cx="1338.5" cy="55.5" rx="6.9" ry="7.7" fill="#0c8012"/><text x="1379.5" y="66.0" font-family="'Liberation Serif','Noto Serif CJK SC',serif" font-weight="bold" font-size="30.5" fill="#111">(a)</text><path d="M1305 97.8 H1373" stroke="#f04444" stroke-width="2.4"/><ellipse cx="1338.5" cy="97.8" rx="6.9" ry="7.7" fill="#f04444"/><text x="1379.5" y="108.3" font-family="'Liberation Serif','Noto Serif CJK SC',serif" font-weight="bold" font-size="30.5" fill="#111">(b)</text><path d="M1305 140.3 H1373" stroke="#1b6ee4" stroke-width="2.4"/><ellipse cx="1338.5" cy="140.3" rx="6.9" ry="7.7" fill="#1b6ee4"/><text x="1379.5" y="150.8" font-family="'Liberation Serif','Noto Serif CJK SC',serif" font-weight="bold" font-size="30.5" fill="#111">(c)</text><path d="M1305 183.2 H1373" stroke="#7a28be" stroke-width="2.4"/><ellipse cx="1338.5" cy="183.2" rx="6.9" ry="7.7" fill="#7a28be"/><text x="1379.5" y="193.7" font-family="'Liberation Serif','Noto Serif CJK SC',serif" font-weight="bold" font-size="30.5" fill="#111">(d)</text><text x="1190" y="66" font-family="'Liberation Serif','Noto Serif CJK SC',serif" font-weight="bold" font-size="50" fill="#000">(e)</text></g><defs>
<filter id="semU" x="0" y="0" width="100%" height="100%" color-interpolation-filters="sRGB">
<feTurbulence type="turbulence" baseFrequency="0.021 0.11" numOctaves="3" seed="7" result="t"/>
<feColorMatrix in="t" type="matrix" values="0 0 0 0 0  0 0 0 0 0  0 0 0 0 0  1 0 0 0 0" result="a"/>
<feComponentTransfer in="a" result="m"><feFuncA type="table" tableValues="0.95 0.55 0.28 0.12 0.04 0 0 0 0 0 0"/></feComponentTransfer>
<feFlood flood-color="#eef0f3"/><feComposite in2="m" operator="in" result="w"/>
<feColorMatrix in="t" type="matrix" values="0 0 0 0 0  0 0 0 0 0  0 0 0 0 0  0 1 0 0 0" result="a2"/>
<feComponentTransfer in="a2" result="m2"><feFuncA type="table" tableValues="0 0 0.1 0.3 0.5 0.6 0.6 0.6"/></feComponentTransfer>
<feFlood flood-color="#2e3136"/><feComposite in2="m2" operator="in" result="dk"/>
<feMerge><feMergeNode in="SourceGraphic"/><feMergeNode in="dk"/><feMergeNode in="w"/></feMerge>
<feComposite in2="SourceGraphic" operator="in"/>
</filter>
<filter id="semL" x="0" y="0" width="100%" height="100%" color-interpolation-filters="sRGB">
<feTurbulence type="turbulence" baseFrequency="0.019 0.085" numOctaves="2" seed="23" result="t"/>
<feColorMatrix in="t" type="matrix" values="0 0 0 0 0  0 0 0 0 0  0 0 0 0 0  1 0 0 0 0" result="a"/>
<feComponentTransfer in="a" result="m"><feFuncA type="table" tableValues="1 0.95 0.7 0.32 0.08 0 0 0 0 0 0"/></feComponentTransfer>
<feFlood flood-color="#d6d9dd"/><feComposite in2="m" operator="in" result="w"/>
<feMerge><feMergeNode in="SourceGraphic"/><feMergeNode in="w"/></feMerge>
<feComposite in2="SourceGraphic" operator="in"/>
</filter>
<linearGradient id="hpTop" gradientUnits="userSpaceOnUse" x1="880" y1="1090" x2="874" y2="1152">
<stop offset="0" stop-color="#ecec9f"/><stop offset="0.45" stop-color="#eeea9e"/><stop offset="0.72" stop-color="#f5a6a6"/><stop offset="0.92" stop-color="#fb2f98"/><stop offset="1" stop-color="#ff1493"/>
</linearGradient>
<linearGradient id="hpRight" gradientUnits="userSpaceOnUse" x1="1300" y1="1075" x2="1345" y2="1135">
<stop offset="0" stop-color="#ecec9f" stop-opacity="0"/><stop offset="0.5" stop-color="#e88aa8" stop-opacity="0.8"/><stop offset="1" stop-color="#f0208c"/>
</linearGradient>
<clipPath id="clipBox"><polygon points="529.0,855.5 1240.0,894.5 1460.5,803.5 1466.0,1084.0 1247.0,1172.0 533.0,1130.0"/></clipPath>
</defs><rect x="75.2" y="709.8" width="1753" height="624" rx="38" fill="none" stroke="#2a64fb" stroke-width="5.4" stroke-dasharray="22 16.4" stroke-dashoffset="7"/><polygon points="529.0,855.5 1240.0,894.5 1460.5,803.5 748.0,760.7" fill="#fdfeef" stroke="#e4e7ee" stroke-width="1"/><polygon points="529.0,855.5 1240.0,894.5 1247.0,1172.0 533.0,1130.0" fill="#dfe3ed"/><clipPath id="hpClip"><path d="M533.0 1130.0 L1247.0 1172.0 L1466.0 1084.0 Q1428 1060 1336 1056 L752.0 1043.0 Z"/></clipPath><path d="M533.0 1130.0 L1247.0 1172.0 L1466.0 1084.0 Q1428 1060 1336 1056 L752.0 1043.0 Z" fill="#ebeb9e"/><g clip-path="url(#hpClip)"><path d="M513.0 1136.0 L1247.0 1180.0 L1486.0 1088.0" stroke="#ff1493" stroke-width="38" fill="none" stroke-linejoin="round" filter="url(#b8)" opacity="0.95"/><path d="M513.0 1131.0 L1247.0 1174.0 L1486.0 1084.0" stroke="#ff1493" stroke-width="9" fill="none" stroke-linejoin="round" filter="url(#b2)"/><path d="M529.0 1130.0 L692.0 1065.0" stroke="#ff1493" stroke-width="22" fill="none" filter="url(#b8)" opacity="0.3"/><path d="M1241.0 1186.0 L1496.0 1090.0" stroke="#ff1493" stroke-width="62" fill="none" filter="url(#b14)" opacity="0.9"/><path d="M1241.0 1182.0 L1496.0 1086.0" stroke="#ff1493" stroke-width="30" fill="none" filter="url(#b8)" opacity="0.8"/></g><polygon points="533.0,1130.0 1247.0,1172.0 1248.3,1288.3 536.0,1245.5" fill="#aa70e8"/><polygon points="1247.0,1172.0 1466.0,1084.0 1468.0,1198.6 1248.3,1288.3" fill="#31538f"/><path d="M533.0 1130.0 L1247.0 1172.0" stroke="#ff1493" stroke-width="2.5"/><polygon points="644.8,1064.5 820.0,985.0 1382.0,1027.0 1209.0,1094.0" fill="#383b41" filter="url(#semL)"/><polygon points="644.8,1064.5 1209.0,1094.0 1209.0,1105.5 644.8,1074.0" fill="#34589b" stroke="#34589b" stroke-width="0.8"/><polygon points="1209.0,1094.0 1382.0,1027.0 1382.0,1036.5 1209.0,1105.5" fill="#16233d" stroke="#16233d" stroke-width="0.8"/><polygon points="629.6,999.7 809.8,923.6 1402.8,959.3 1221.0,1025.7" fill="#696d74" filter="url(#semU)"/><polygon points="629.6,999.7 1221.0,1025.7 1221.0,1037.0 629.6,1007.9" fill="#4f8a4c" stroke="#4f8a4c" stroke-width="0.8"/><polygon points="1221.0,1025.7 1402.8,959.3 1402.8,968.8 1221.0,1037.0" fill="#121c24" stroke="#121c24" stroke-width="0.8"/><defs><linearGradient id="trGrad" gradientUnits="userSpaceOnUse" x1="0" y1="813" x2="0" y2="940"><stop offset="0" stop-color="#ff0520"/><stop offset="0.22" stop-color="#ff1478"/><stop offset="0.35" stop-color="#ff1ea0"/><stop offset="0.43" stop-color="#ff35d2"/><stop offset="0.65" stop-color="#ff7888"/><stop offset="1" stop-color="#ff7c80"/></linearGradient><linearGradient id="irStem" gradientUnits="userSpaceOnUse" x1="0" y1="1063" x2="0" y2="1152"><stop offset="0" stop-color="#ff86c0"/><stop offset="0.18" stop-color="#f9a08c"/><stop offset="0.36" stop-color="#cf66ff"/><stop offset="0.62" stop-color="#cf66ff"/><stop offset="0.85" stop-color="#fa9c9a"/><stop offset="1" stop-color="#ff62c0" stop-opacity="0.85"/></linearGradient><linearGradient id="irArms" gradientUnits="userSpaceOnUse" x1="1000" y1="0" x2="1131" y2="0"><stop offset="0" stop-color="#ff7fc0"/><stop offset="0.17" stop-color="#f9a58f"/><stop offset="0.4" stop-color="#cf66ff"/><stop offset="0.6" stop-color="#cf66ff"/><stop offset="0.83" stop-color="#f9a58f"/><stop offset="1" stop-color="#ff7fc0"/></linearGradient><radialGradient id="pinkRing" gradientUnits="userSpaceOnUse" cx="737" cy="1049" r="48" gradientTransform="translate(0 524.5) scale(1 0.5)"><stop offset="0.55" stop-color="#ffc21a"/><stop offset="0.72" stop-color="#ff7a70"/><stop offset="0.85" stop-color="#ff4f86"/><stop offset="1" stop-color="#f8305c"/></radialGradient><linearGradient id="orgA" gradientUnits="userSpaceOnUse" x1="1185" y1="1072" x2="1165" y2="1000"><stop offset="0" stop-color="#ffc400"/><stop offset="0.45" stop-color="#fb9d00"/><stop offset="0.8" stop-color="#ec6c00"/><stop offset="1" stop-color="#dc4a00"/></linearGradient><linearGradient id="orgB" gradientUnits="userSpaceOnUse" x1="1195" y1="1010" x2="1205" y2="1084"><stop offset="0" stop-color="#ffc400"/><stop offset="0.45" stop-color="#fb9d00"/><stop offset="0.8" stop-color="#ec6c00"/><stop offset="1" stop-color="#dc4a00"/></linearGradient></defs><path d="M1000 1098.3 L1019.4 1081 V1091.5 Q1050 1090 1057 1116 L1064.8 1126 L1072.7 1116 Q1080 1090 1111 1091.5 V1081.5 L1131 1098.3 L1111 1115.5 V1105 Q1082 1104 1073.2 1130 L1064.8 1140 L1056.5 1130 Q1048 1104 1019.4 1105 V1115.5 Z" fill="url(#irArms)"/><path d="M1064.8 1063 L1083 1080.7 H1073.2 V1151.5 H1056.5 V1080.7 H1046.5 Z" fill="url(#irStem)"/><g fill="url(#pinkRing)"><path d="M695.5 1044 Q700 1027 737 1026.5 Q765 1027 776 1036 L779 1028.5 L792 1044.5 L765 1044 L768.5 1040 Q760 1035 737 1035 Q716 1035 708 1048 Z"/><path d="M781 1054.5 Q776 1071.5 740 1072.5 Q712 1072.5 700 1063.5 L697 1071 L685 1055 L711 1055.5 L707.5 1059.5 Q716 1064.5 740 1064.5 Q760 1064.5 768 1052 Z"/></g><path d="M1175.9 1073.1 Q1141.2 1040.9 1166.9 1013.5 L1160.8 1009.1 L1184.5 997.2 L1180.8 1025.4 L1174.3 1020.9 Q1155.4 1045.7 1184 1062.5 Z" fill="url(#orgA)"/><path d="M1197.1 1009.1 Q1232.6 1033.4 1211 1066.6 L1212.6 1072.7 L1190.6 1084.5 L1193 1056.8 L1200.4 1061.7 Q1219.7 1043.7 1191 1019.3 Z" fill="url(#orgB)"/><polygon points="1240.0,894.5 1460.5,803.5 1466.0,1084.0 1247.0,1172.0" fill="#30579e" fill-opacity="0.566"/><path d="M1247.0 1172.0 L1466.0 1084.0" stroke="#ff1080" stroke-width="3.6"/><polygon points="529.0,852.5 1240.0,890.5 1240.0,898.5 529.0,859.5" fill="#5b7dab"/><polygon points="1240.0,890.5 1460.5,799.5 1460.5,807.5 1240.0,899.5" fill="#060b12"/><path d="M1066.0 813 L1089.8 857.5 H1075.8 V937.5 H1056.2 V857.5 H1042.2 Z" fill="url(#trGrad)"/><rect x="1056.2" y="949.8" width="21" height="12.7" fill="#ff7c80"/><rect x="1056.2" y="974.5" width="21" height="12.5" fill="#ff3dc4"/><rect x="1056.2" y="999.7" width="21" height="12.0" fill="#ff2389"/><rect x="1056.2" y="1024.4" width="21" height="14.8" fill="#ff0a28"/><path d="M465.4 883.2 L442.2 921.1 L462.6 923.9 Q474 944 496 964 Q540 1000 605 1000 Q650 999 676.6 978.6 Q648 993 605 992.5 Q556 990 524 962 Q504 944 493.2 931.3 L512.6 931.3 Z" fill="#6fad47"/><path d="M442.2 1050.8 L442.2 1002.7 L460.8 1011 Q495 995 531 996 Q592 998 633 1036 Q652 1054 658 1076 Q647 1058 630 1042 Q592 1010 531 1008.5 Q505 1008.5 486.7 1024 L502.5 1031.4 Z" fill="#f4b183"/><path d="M723 1054.2 Q670 1060 625.7 1067.5 Q585 1075 549.7 1082.3 Q470 1100 437 1158" stroke="#ffc000" stroke-width="5.6" stroke-dasharray="20 15.5" fill="none"/><circle cx="723" cy="1054.2" r="7" fill="#ffc000"/><path d="M431 1170 L430 1146.5 L450.5 1157.5 Z" fill="#ffc000"/><path d="M1196 1027 Q1225 986 1290 964 Q1385 935 1470 960 Q1515 974 1548 990" stroke="#ffc000" stroke-width="6.4" stroke-dasharray="17 6.2" fill="none"/><circle cx="1193" cy="1030.5" r="7.8" fill="#ffc000"/><path d="M1541.7 975 L1556.2 993.6 L1532.2 994.3" stroke="#ffc000" stroke-width="7" fill="none" stroke-linejoin="miter" stroke-linecap="round"/><path d="M1135.6 1096.2 L1533 1118.4" stroke="#e2582a" stroke-width="6" stroke-dasharray="24 18.4" fill="none"/><path d="M1531.3 1110.3 L1548.2 1120.1 L1530.3 1128.4 Z" fill="#e2582a"/><path d="M1068 1094 L1470 1238.3" stroke="#00b0f0" stroke-width="6.6" stroke-dasharray="24 16.5" fill="none"/><rect x="-7" y="-6" width="14" height="12" fill="#00b0f0" transform="translate(1066 1091) rotate(-25)"/><path d="M1486.2 1244.8 L1472.8 1230.7 L1466.5 1246.9 Z" fill="#00b0f0"/><rect x="86.9" y="791.9" width="439.4" height="88.2" rx="44.1" fill="#79d5a6" stroke="#62b08e" stroke-width="1"/><text transform="translate(306.9 831.0) scale(1 1.20)" font-family="'Liberation Mono',monospace" font-size="25.58" text-anchor="middle" fill="#0a0a0a" stroke="#0a0a0a" stroke-width="0.75">PI/graphene/Fe<tspan font-size="17.9" dy="5.1">3</tspan><tspan dy="-5.1">O</tspan><tspan font-size="17.9" dy="5.1">4</tspan></text><text transform="translate(306.9 866.3) scale(1 1.20)" font-family="'Liberation Mono',monospace" font-size="24.83" text-anchor="middle" fill="#0a0a0a" stroke="#0a0a0a" stroke-width="0.75">aerogel/PEG composite film</text><rect x="109" y="1007.2" width="326.4" height="100.5" rx="50.2" fill="#fbd5bc"/><text transform="translate(272.8 1052.4) scale(1 1.20)" font-family="'Liberation Mono',monospace" font-size="25.58" text-anchor="middle" fill="#0a0a0a" stroke="#0a0a0a" stroke-width="0.75">PI/graphene/Fe<tspan font-size="17.9" dy="5.1">3</tspan><tspan dy="-5.1">O</tspan><tspan font-size="17.9" dy="5.1">4</tspan></text><text transform="translate(272.8 1087.9) scale(1 1.20)" font-family="'Liberation Mono',monospace" font-size="24.83" text-anchor="middle" fill="#0a0a0a" stroke="#0a0a0a" stroke-width="0.75">aerogel film</text><rect x="157.6" y="1174.5" width="290.6" height="39.0" fill="none" stroke="#bdf2a0" stroke-width="8.0" stroke-dasharray="7 4.5" filter="url(#b1)" opacity="0.95"/><rect x="157.6" y="1174.5" width="290.6" height="39.0" fill="#fff" stroke="#1f2f1f" stroke-width="2.4" stroke-dasharray="7 4.5"/><text transform="translate(305.6 1201.7) scale(1 1.20)" font-family="'Liberation Mono',monospace" font-size="22.58" text-anchor="middle" fill="#0a0a0a" stroke="#0a0a0a" stroke-width="0.75">Thermal convection</text><rect x="859.5" y="759.5" width="241.2" height="36.5" fill="none" stroke="#bdf2a0" stroke-width="9.0" stroke-dasharray="14 12.5" filter="url(#b1)" opacity="0.95"/><rect x="859.5" y="759.5" width="241.2" height="36.5" fill="none" stroke="#4472c4" stroke-width="3.0" stroke-dasharray="14 12.5"/><text transform="translate(980.1 784.4) scale(1 1.20)" font-family="'Liberation Mono',monospace" font-size="22.58" text-anchor="middle" fill="#0a0a0a" stroke="#0a0a0a" stroke-width="0.75">Thermal radiation</text><rect x="1496.5" y="1257" width="294" height="38.5" fill="#fff" stroke="#bdeea6" stroke-width="4.5" filter="url(#soft)"/><rect x="1498" y="1258.5" width="291" height="35.5" fill="none" stroke="#6a9a5a" stroke-width="1" stroke-dasharray="1.5 1.5"/><text transform="translate(1643.5 1285.0) scale(1 1.20)" font-family="'Liberation Mono',monospace" font-size="22.58" text-anchor="middle" fill="#0a0a0a" stroke="#0a0a0a" stroke-width="0.75">Thermal conduction</text><defs><linearGradient id="fade1557" x1="0" y1="0" x2="0" y2="1"><stop offset="0" stop-color="#fff" stop-opacity="0.35"/><stop offset="0.85" stop-color="#fff" stop-opacity="1"/></linearGradient></defs><g transform="translate(0 1010.50) scale(1 -0.55) translate(0 -1010.50)" opacity="0.42" filter="url(#soft)"><rect x="1557.5" y="971.5" width="144.5" height="36.0" fill="none" stroke="#0a0a0a" stroke-width="4" stroke-dasharray="10.6 4.6"/><text x="1573.0" y="999.7" font-family="'Liberation Serif','Noto Serif CJK SC',serif" font-weight="bold" font-size="27.5" fill="#111">Absorbed</text></g><rect x="1551.5" y="1010.5" width="156.5" height="27.8" fill="url(#fade1557)"/><rect x="1557.5" y="971.5" width="144.5" height="36.0" fill="none" stroke="#0a0a0a" stroke-width="4" stroke-dasharray="10.6 4.6"/><text x="1573.0" y="999.7" font-family="'Liberation Serif','Noto Serif CJK SC',serif" font-weight="bold" font-size="27.5" fill="#111">Absorbed</text><defs><linearGradient id="fade1563" x1="0" y1="0" x2="0" y2="1"><stop offset="0" stop-color="#fff" stop-opacity="0.35"/><stop offset="0.85" stop-color="#fff" stop-opacity="1"/></linearGradient></defs><g transform="translate(0 1150.00) scale(1 -0.55) translate(0 -1150.00)" opacity="0.42" filter="url(#soft)"><rect x="1563.0" y="1111.0" width="159.5" height="36.0" fill="none" stroke="#0a0a0a" stroke-width="4" stroke-dasharray="10.6 4.6"/><text x="1589.3" y="1138.6" font-family="'Liberation Serif','Noto Serif CJK SC',serif" font-weight="bold" font-size="27.5" fill="#111">Reflected</text></g><rect x="1557.0" y="1150.0" width="171.5" height="27.8" fill="url(#fade1563)"/><rect x="1563.0" y="1111.0" width="159.5" height="36.0" fill="none" stroke="#0a0a0a" stroke-width="4" stroke-dasharray="10.6 4.6"/><text x="1589.3" y="1138.6" font-family="'Liberation Serif','Noto Serif CJK SC',serif" font-weight="bold" font-size="27.5" fill="#111">Reflected</text><text transform="matrix(0.635 0.035 0 1 832.5 1128.5)" font-family="'Liberation Serif','Noto Serif CJK SC',serif" font-weight="bold" font-size="44" fill="#0b1c5e">IR radiation</text><text transform="matrix(0.985 0.045 0 1 689 1203)" font-family="'Liberation Serif','Noto Serif CJK SC',serif" font-weight="bold" font-size="56" fill="#ffff00">Hot platform</text><clipPath id="fclip"><rect x="0" y="700" width="62.8" height="70"/></clipPath><text x="18.5" y="745" font-family="'Liberation Serif','Noto Serif CJK SC',serif" font-weight="bold" font-size="48" fill="#000" clip-path="url(#fclip)">(f)</text>
</svg>
</body></html>
